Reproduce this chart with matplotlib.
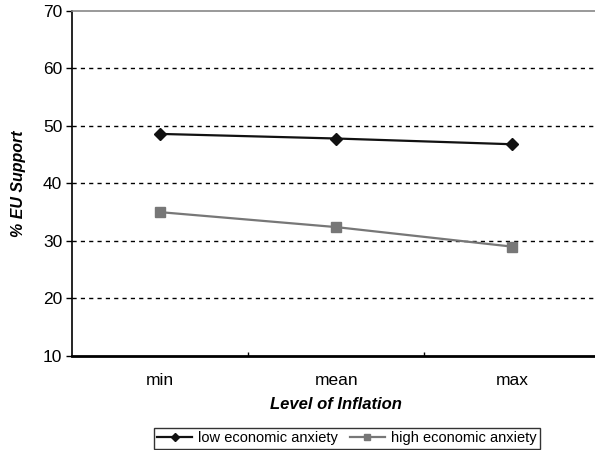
import matplotlib.pyplot as plt

plt.rcParams['font.family'] = ['Liberation Sans', 'DejaVu Sans']

levels = ['min', 'mean', 'max']
low_anxiety = [48.6, 47.8, 46.8]
high_anxiety = [35.0, 32.4, 29.0]

fig = plt.figure(figsize=(5.95, 4.5), dpi=100)
ax = fig.add_axes([0.121, 0.209, 0.888, 0.767])

x = [i + 0.5 for i in range(len(levels))]
ax.plot(x, low_anxiety, color='#111111', lw=1.6, marker='D', ms=6,
        label='low economic anxiety')
ax.plot(x, high_anxiety, color='#777777', lw=1.6, marker='s', ms=6.5,
        label='high economic anxiety')

ax.set_xlim(0, 3)
ax.set_ylim(10, 70)
ax.set_yticks(range(10, 71, 10))
ax.set_xticks(x)
ax.set_xticklabels(levels)
ax.set_xticks([1, 2], minor=True)
ax.tick_params(axis='x', which='major', length=0, pad=12, labelsize=12.5)
ax.tick_params(axis='x', which='minor', length=3, direction='in', width=1)
ax.tick_params(axis='y', length=4, width=1, labelsize=12.5, pad=3)

for y in range(20, 70, 10):
    ax.axhline(y, color='black', lw=1, ls=(0, (3, 3)), zorder=0)

ax.spines['right'].set_visible(False)
ax.spines['top'].set_color('#888888')
ax.spines['top'].set_linewidth(1.2)
ax.spines['left'].set_linewidth(1.2)
ax.spines['bottom'].set_linewidth(2)

ax.set_ylabel('% EU Support', fontsize=11.5, fontweight='bold', style='italic',
              labelpad=12)
ax.set_xlabel('Level of Inflation', fontsize=12, fontweight='bold',
              style='italic', labelpad=7)

leg = fig.legend(loc='lower center', bbox_to_anchor=(0.583, -0.014), ncol=2,
                 fontsize=10.5, frameon=True, fancybox=False, edgecolor='black',
                 handlelength=2.4, handletextpad=0.4, columnspacing=0.8,
                 borderpad=0.25, markerscale=0.75)
leg.get_frame().set_linewidth(1)

fig.savefig('out.png', dpi=100)
